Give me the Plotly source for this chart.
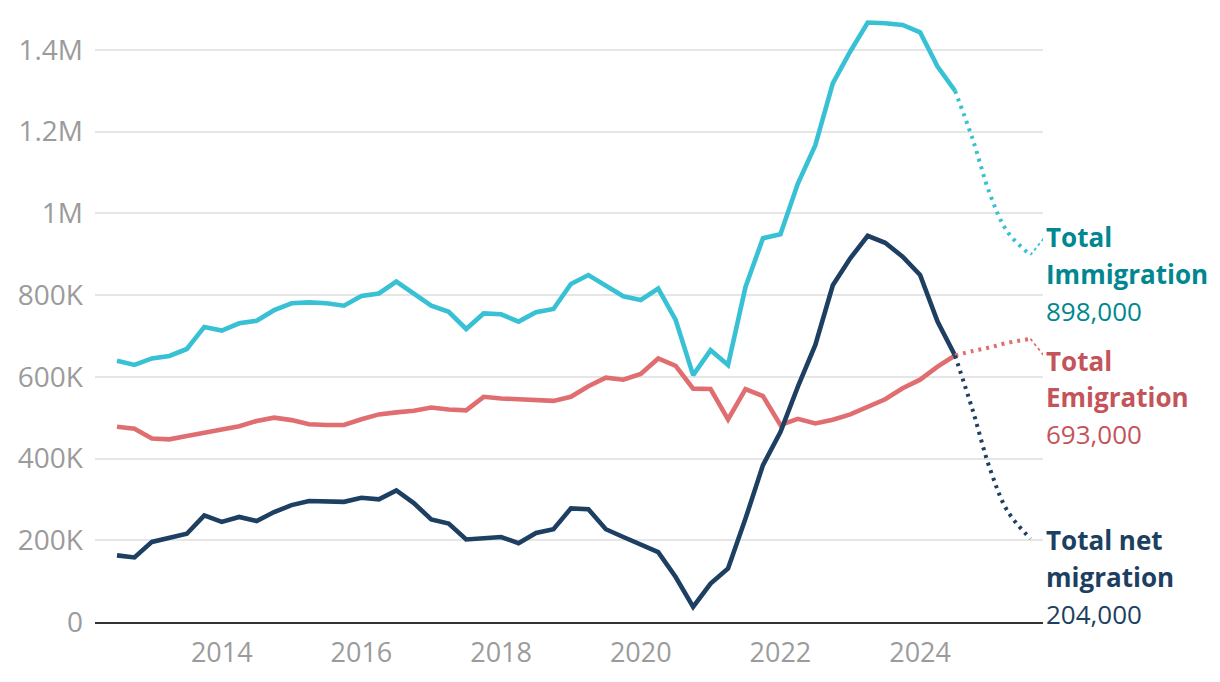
import plotly.graph_objects as go

# ---------------- data (thousands) ----------------
quarters = [2012.5 + 0.25 * k for k in range(49)]

immigration = [639, 629, 645, 651, 668, 722, 713, 731, 737, 763,
               780, 782, 780, 774, 798, 804, 833, 804, 774, 759,
               717, 755, 753, 735, 758, 766, 827, 849, 824, 797,
               788, 816, 739, 604, 665, 629, 820, 939, 949, 1073,
               1167, 1318, 1396, 1467, 1465, 1461, 1443, 1359, 1300]

emigration = [478, 473, 449, 447, 455, 463, 471, 479, 492, 500,
              494, 484, 482, 482, 496, 508, 513, 517, 525, 520,
              518, 551, 547, 545, 543, 541, 551, 577, 598, 593,
              607, 645, 627, 571, 570, 496, 570, 553, 482, 497,
              486, 495, 508, 528, 545, 572, 593, 625, 652]

net_migration = [163, 158, 196, 206, 216, 261, 245, 257, 247, 269,
                 286, 296, 296, 294, 304, 300, 322, 291, 251, 241,
                 202, 206, 208, 193, 218, 227, 278, 276, 227, 208,
                 188, 171, 110, 37, 94, 131, 253, 384, 465, 576,
                 678, 824, 890, 945, 928, 894, 849, 735, 652]

proj_x = [2024.5, 2024.75, 2025.0, 2025.25, 2025.58]
proj_immigration = [1300, 1183, 1047, 955, 898]
proj_emigration = [652, 663, 672, 683, 693]
proj_net = [652, 520, 375, 272, 204]

year_ticks = [2014, 2016, 2018, 2020, 2022, 2024]
y_tickvals = [0, 200, 400, 600, 800, 1000, 1200, 1400]
y_ticktext = ["0", "200K", "400K", "600K", "800K", "1M", "1.2M", "1.4M"]

labels = [
    ("Total", "Immigration", "898,000"),
    ("Total", "Emigration", "693,000"),
    ("Total net", "migration", "204,000"),
]

# ---------------- style ----------------
C_IMM = "#38c1d4"
C_EMI = "#e06e70"
C_NET = "#1d3f61"
L_IMM = "#00878f"
L_EMI = "#c4545a"
L_NET = "#1d3f61"
FONT = "Open Sans"
OFF = 8  # page body margin offset
W, H = 1220 - OFF, 682 - OFF
ML, MT = 95 - OFF, 9 - OFF
PR, PB = 1043 - OFF, 622 - OFF  # plot right / bottom in figure px
MR, MB = W - PR, H - PB
XR = [2012.185, 2025.76]
YR = [0, 1500]

fig = go.Figure()

for ys, c in [(immigration, C_IMM), (emigration, C_EMI), (net_migration, C_NET)]:
    fig.add_trace(go.Scatter(x=quarters, y=ys, mode="lines",
                             line=dict(color=c, width=4.6), hoverinfo="skip"))

for ys, c in [(proj_immigration, C_IMM), (proj_emigration, C_EMI), (proj_net, C_NET)]:
    fig.add_trace(go.Scatter(x=proj_x, y=ys, mode="lines",
                             line=dict(color=c, width=4, dash="3px,5px", shape="spline"),
                             hoverinfo="skip"))

plot_w = W - ML - MR
plot_h = H - MT - MB
px_x = (XR[1] - XR[0]) / plot_w
px_y = (YR[1] - YR[0]) / plot_h
for yend, c, dy in [(proj_immigration[-1], C_IMM, 20), (proj_emigration[-1], C_EMI, -20)]:
    fig.add_trace(go.Scatter(x=[proj_x[-1], proj_x[-1] + 16 * px_x],
                             y=[yend, yend + dy * px_y], mode="lines",
                             line=dict(color=c, width=1.8, dash="3px,3px"),
                             hoverinfo="skip"))

# right-hand labels (one annotation per line); baselines in page px
baselines = [(246.7, 283.3, 320.0), (370.0, 406.7, 443.3), (549.0, 586.0, 623.0)]
colors = [L_IMM, L_EMI, L_NET]
for (l1, l2, l3), bl, col in zip(labels, baselines, colors):
    for txt, b, bold in [(l1, bl[0], True), (l2, bl[1], True), (l3, bl[2], False)]:
        yc = b - 9.5 - OFF
        fig.add_annotation(
            x=(1044 - OFF - ML) / plot_w, xref="paper", xanchor="left",
            y=(PB - yc) / plot_h, yref="paper", yanchor="middle",
            text=f"<b>{txt}</b>" if bold else txt, showarrow=False,
            font=dict(family=FONT, size=26, color=col), align="left")

fig.update_layout(
    width=W, height=H, autosize=False,
    margin=dict(l=ML, r=MR, t=MT, b=MB, autoexpand=False),
    paper_bgcolor="white", plot_bgcolor="white",
    showlegend=False,
    font=dict(family=FONT, size=27, color="#9b9b9b"),
)
fig.update_xaxes(range=XR, tickvals=year_ticks, ticktext=[str(y) for y in year_ticks],
                 showgrid=False, zeroline=False, showline=True, linecolor="#333333",
                 linewidth=1.5, ticks="", ticklabelstandoff=6,
                 tickfont=dict(family=FONT, size=27, color="#9b9b9b"))
fig.update_yaxes(range=YR, tickvals=y_tickvals, ticktext=y_ticktext,
                 showgrid=True, gridcolor="#e6e6e6", gridwidth=2, zeroline=False,
                 showline=False, ticks="", ticklabelstandoff=11,
                 tickfont=dict(family=FONT, size=28, color="#9b9b9b"))

fig.write_html("out.html")
